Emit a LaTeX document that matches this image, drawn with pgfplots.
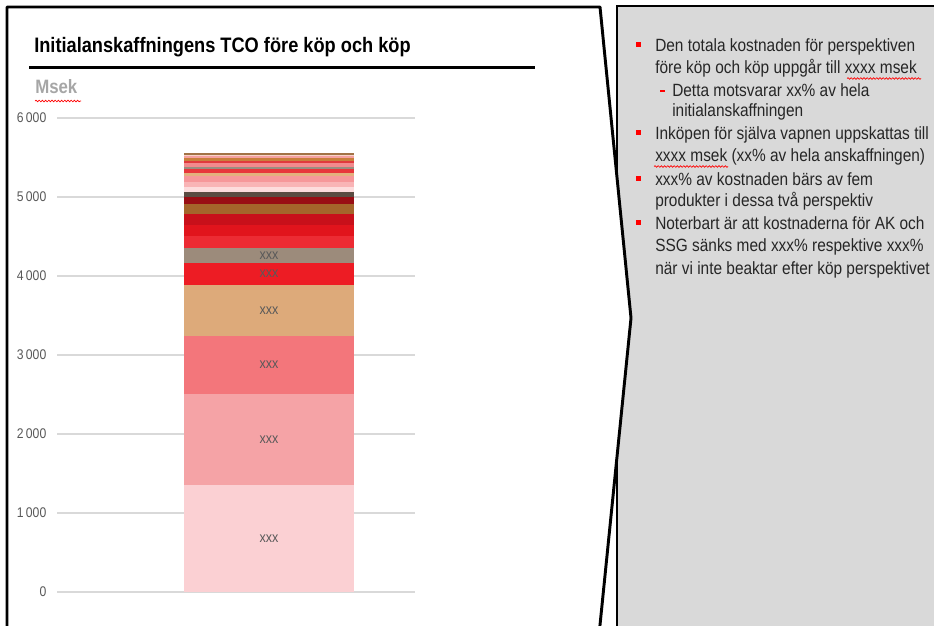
\documentclass[border=0pt]{standalone}
\usepackage{fontspec}
\setmainfont{Liberation Sans}[FakeStretch=0.87]
\usepackage{pgfplots}
\pgfplotsset{compat=1.18}
\usetikzlibrary{decorations.pathmorphing}

\definecolor{panelgray}{HTML}{D9D9D9}
\definecolor{gridgray}{HTML}{D9D9D9}
\definecolor{tickgray}{HTML}{595959}
\definecolor{msekgray}{HTML}{A6A6A6}
\definecolor{txt}{HTML}{262626}
\definecolor{bulletred}{HTML}{FF0000}
\definecolor{s1}{HTML}{FBD0D3}
\definecolor{s2}{HTML}{F5A3A6}
\definecolor{s3}{HTML}{F3767B}
\definecolor{s4}{HTML}{DDAA7A}
\definecolor{s5}{HTML}{ED1C24}
\definecolor{s6}{HTML}{9C8B7B}
\definecolor{s7}{HTML}{EC2B33}
\definecolor{s8}{HTML}{E1141C}
\definecolor{s9}{HTML}{C8101A}
\definecolor{s10}{HTML}{A4652B}
\definecolor{s11}{HTML}{990E14}
\definecolor{s12}{HTML}{5B4C42}
\definecolor{s13}{HTML}{FDDCDD}
\definecolor{s14}{HTML}{F9B4B6}
\definecolor{s15}{HTML}{F6979A}
\definecolor{s16}{HTML}{E3B07E}
\definecolor{s17}{HTML}{E8363B}
\definecolor{s18}{HTML}{9A8E80}
\definecolor{s19}{HTML}{F28A8D}
\definecolor{s20}{HTML}{E03A3D}
\definecolor{s21}{HTML}{C97F3C}
\definecolor{s22}{HTML}{F4A0A0}
\definecolor{s23}{HTML}{F8D2C8}
\definecolor{s24}{HTML}{A27246}

\pgfplotsset{
  myaxis/.style={
    at={(42.75pt,-444pt)}, anchor=south west,
    width=268.5pt, height=355.5pt, scale only axis,
    xmin=-1.247, xmax=0.859, ymin=0, ymax=6000,
  },
  seg/.style={fill=#1, draw=none},
}

\begin{document}
\begin{tikzpicture}[x=0.75pt,y=-0.75pt]
\useasboundingbox (0,0) rectangle (934,625);
\clip (0,0) rectangle (934,625);

% right grey panel
\fill[panelgray] (617,6) rectangle (945,640);
\draw[line width=2.2pt] (617,640) -- (617,6) -- (945,6);

% white chart frame with callout point
\filldraw[fill=white, line width=2.2pt, line join=round]
  (7,645) -- (7,7) -- (600,7) -- (631,318) -- (600,625) -- (598,645);

% title
\node[anchor=base west, inner sep=0pt, font=\fontsize{15.7}{18}\selectfont\bfseries]
  at (34,52) {Initialanskaffningens TCO före köp och köp};
\draw[line width=2.4pt] (29,67.5) -- (535,67.5);
\node[anchor=base west, inner sep=0pt, text=msekgray, font=\fontsize{14.5}{16}\selectfont\bfseries]
  at (35,93) {Msek};
\draw[red, line width=0.5pt, decorate, decoration={snake, amplitude=0.6pt, segment length=2.4pt}]
  (35,101) -- (81,101);

% stacked bar
\begin{axis}[
  myaxis,
  ybar stacked, bar width=127.5pt,
  xtick=\empty, ytick={0,1000,...,6000},
  ymajorgrids, grid style={draw=gridgray, line width=0.8pt},
  axis line style={draw=none}, major tick length=0pt,
  yticklabel style={font=\fontsize{10.5}{12}\selectfont, text=tickgray, xshift=-4.5pt},
  /pgf/number format/1000 sep={\,},
  /pgf/number format/assume math mode=true,
]
\addplot[seg=s1]  coordinates {(0,1354)};
\addplot[seg=s2]  coordinates {(0,1152)};
\addplot[seg=s3]  coordinates {(0,735)};
\addplot[seg=s4]  coordinates {(0,645)};
\addplot[seg=s5]  coordinates {(0,282)};
\addplot[seg=s6]  coordinates {(0,190)};
\addplot[seg=s7]  coordinates {(0,148)};
\addplot[seg=s8]  coordinates {(0,140)};
\addplot[seg=s9]  coordinates {(0,139)};
\addplot[seg=s10] coordinates {(0,123)};
\addplot[seg=s11] coordinates {(0,88)};
\addplot[seg=s12] coordinates {(0,63)};
\addplot[seg=s13] coordinates {(0,71)};
\addplot[seg=s14] coordinates {(0,64)};
\addplot[seg=s15] coordinates {(0,72)};
\addplot[seg=s16] coordinates {(0,34)};
\addplot[seg=s17] coordinates {(0,51)};
\addplot[seg=s18] coordinates {(0,33)};
\addplot[seg=s19] coordinates {(0,50)};
\addplot[seg=s20] coordinates {(0,25)};
\addplot[seg=s21] coordinates {(0,31)};
\addplot[seg=s22] coordinates {(0,29)};
\addplot[seg=s23] coordinates {(0,16)};
\addplot[seg=s24] coordinates {(0,18)};
\end{axis}

% segment labels
\begin{axis}[myaxis, hide axis]
\addplot[draw=none, mark=none, nodes near coords, point meta=explicit symbolic,
  nodes near coords align=center,
  every node near coord/.append style={anchor=center, text=tickgray,
    font=\fontsize{10.8}{12}\selectfont}]
  coordinates {(0,677) [xxx] (0,1930) [xxx] (0,2873) [xxx]
               (0,3563) [xxx] (0,4027) [xxx] (0,4263) [xxx]};
\end{axis}

% right panel text
\begin{scope}[every node/.style={anchor=base west, inner sep=0pt, text=txt,
    font=\fontsize{13.3}{16}\selectfont}]
\node at (655,51)    {Den totala kostnaden för perspektiven};
\node at (655,73.3)  {före köp och köp uppgår till xxxx msek};
\node at (672,96)    {Detta motsvarar xx\% av hela};
\node at (672,116.7) {initialanskaffningen};
\node at (655,139.3) {Inköpen för själva vapnen uppskattas till};
\node at (655,161.7) {xxxx msek (xx\% av hela anskaffningen)};
\node at (655,185)   {xxx\% av kostnaden bärs av fem};
\node at (655,206.7) {produkter i dessa två perspektiv};
\node at (655,229.3) {Noterbart är att kostnaderna för AK och};
\node at (655,251.7) {SSG sänks med xxx\% respektive xxx\%};
\node at (655,274)   {när vi inte beaktar efter köp perspektivet};
\end{scope}

% bullets
\foreach \yb in {51,139.3,185,229.3}
  \fill[bulletred] (635.5,\yb-9.5) rectangle (640.5,\yb-4.5);
\draw[bulletred, line width=1.1pt] (660,91) -- (665,91);

% spell-check underlines
\draw[red, line width=0.5pt, decorate, decoration={snake, amplitude=0.6pt, segment length=2.4pt}]
  (847,78.5) -- (921,78.5);
\draw[red, line width=0.5pt, decorate, decoration={snake, amplitude=0.6pt, segment length=2.4pt}]
  (654,166.5) -- (728,166.5);
\end{tikzpicture}
\end{document}
